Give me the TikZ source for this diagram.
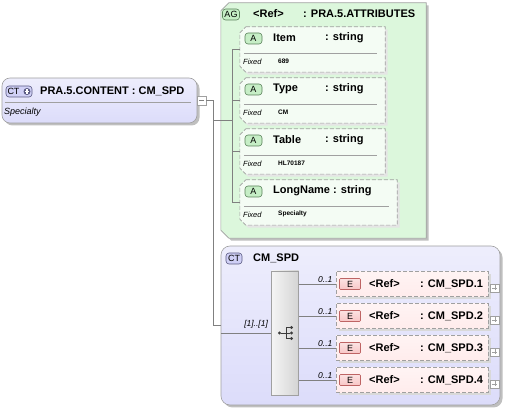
\documentclass[tikz,border=0pt]{standalone}
\usepackage{fontspec}
\setmainfont{Liberation Sans}
\usetikzlibrary{shadows, positioning, calc}
\definecolor{wire}{RGB}{128,128,128}
\definecolor{edge}{RGB}{160,160,160}
\definecolor{ctlav}{RGB}{220,220,250}
\definecolor{agmint}{RGB}{220,247,220}
\definecolor{attrmint}{RGB}{244,252,244}
\definecolor{elpink}{RGB}{255,236,236}
\definecolor{abadge}{RGB}{198,238,198}
\definecolor{aline}{RGB}{90,130,90}
\definecolor{ebadge}{RGB}{248,198,198}
\definecolor{eline}{RGB}{190,100,100}
\definecolor{ctbadge}{RGB}{208,208,246}
\definecolor{ctline}{RGB}{90,90,130}
\definecolor{iconc}{RGB}{60,60,60}
\newcommand{\cutbox}[3]{\draw[#2] ([xshift=#3]#1.north west) -- (#1.north east) -- (#1.south east) -- ([xshift=#3]#1.south west) -- ([yshift=#3]#1.south west) -- ([yshift=-#3]#1.north west) -- cycle;}

\tikzset{
 dropshade/.style={drop shadow={shadow xshift=2.5pt, shadow yshift=-2.5pt, fill=black!#1, opacity=1}},
 frame/.style={inner sep=0},
 ctbox/.style={draw=edge, line width=0.6pt, rounded corners=8pt, dropshade=25, top color=white!50!ctlav, bottom color=ctlav, inner sep=0},
 agline/.style={draw=edge, line width=0.6pt, fill=agmint, dropshade=25},
 attrline/.style={draw=edge, line width=0.6pt, dash pattern=on 4pt off 2pt, fill=attrmint, dropshade=10},
 elbox/.style={draw=edge, line width=0.6pt, dash pattern=on 4pt off 2pt, top color=elpink!60, bottom color=elpink, dropshade=15, inner sep=0, minimum width=152pt, minimum height=25pt},
 seqbox/.style={draw=edge, line width=0.6pt, left color=black!4, right color=black!17, inner sep=0, minimum width=27pt, minimum height=124pt},
 tag/.style={draw, line width=0.6pt, rounded corners=3pt, inner sep=0, minimum height=11pt, font=\fontsize{9}{10}\selectfont},
 hd/.style={inner sep=0, anchor=west, font=\fontsize{11}{13}\selectfont\bfseries},
 it/.style={inner sep=0, anchor=west, font=\fontsize{8.5}{10}\selectfont\itshape},
 fx/.style={inner sep=0, anchor=west, font=\fontsize{6.5}{8}\selectfont\bfseries},
 toggle/.style={draw=edge, fill=white, minimum size=8.5pt, inner sep=0},
 link/.style={draw=wire, line width=0.6pt},
 dot/.style={circle, fill=iconc, minimum size=3.2pt, inner sep=0},
}

\begin{document}
\begin{tikzpicture}[x=1pt, y=-1pt]
\useasboundingbox (0,0) rectangle (507,409);

\node[ctbox, minimum width=195pt, minimum height=45pt] (pra) at (99.5,100.5) {};
\node[tag, fill=ctbadge, draw=ctline, minimum width=26pt] (prat) at (19,91.5) {};
\node[inner sep=0, font=\fontsize{9}{10}\selectfont] (pratx) at (13.5,91.5) {CT};
\node[circle, fill=ctline, minimum size=7pt, inner sep=0] (prap) at (27,91.5) {};
\draw[white, line width=1.1pt] (prap.center) +(-2.2,0) -- +(2.2,0) (prap.center) +(0,-2.2) -- +(0,2.2);
\node[hd] (pran) at (40,91) {PRA.5.CONTENT : CM\_SPD};
\draw[edge] ([xshift=3pt, yshift=-2pt]pra.west) -- ([xshift=-6pt, yshift=-2pt]pra.east);
\node[it, font=\fontsize{9}{10}\selectfont\itshape] (prad) at (4,112.5) {Specialty};
\node[toggle, anchor=west] (prac) at (pra.east) {};
\draw[wire] (prac.center) +(-2.5,0) -- +(2.5,0);

\node[frame, minimum width=205pt, minimum height=235pt] (ag) at (323.5,120.5) {};
\cutbox{ag}{agline}{8pt}
\node[tag, fill=abadge, draw=aline, minimum width=17pt] (agt) at (231,14.5) {AG};
\node[hd] (agr) at (253,14) {<Ref>};
\node[hd] (agn) at (303,14) {: PRA.5.ATTRIBUTES};

\foreach \nm/\fv/\tp/\bw/\cx [count=\i] in {Item/689/27/145/325, Type/CM/78/145/325, Table/HL70187/129/145/325, LongName/Specialty/180/157/333}{
 \node[frame, minimum width=\bw pt, minimum height=45pt] (at\i) at (240+\bw/2,\tp+22.5) {};
 \cutbox{at\i}{attrline}{6pt}
 \node[tag, fill=abadge, draw=aline, minimum width=17pt] (ab\i) at (253.5,\tp+11.5) {A};
 \node[hd] (an\i) at (273,\tp+11) {\nm};
 \node[hd] (as\i) at (\cx,\tp+11) {: string};
 \draw[edge] ([xshift=4pt, yshift=-3.5pt]at\i.west) -- ([xshift=-8pt, yshift=-3.5pt]at\i.east);
 \node[it, font=\fontsize{7.5}{9}\selectfont\itshape] (af\i) at (243,\tp+34.5) {Fixed};
 \node[fx] (av\i) at (278,\tp+34) {\fv};
}
\coordinate (spine) at (213,0);
\coordinate (agspine) at (232,0);
\draw[link] (at1.west) -- (at1.west -| agspine) -- (at4.west -| agspine) -- (at4.west);
\draw[link] (at2.west) -- (at2.west -| agspine) (at3.west) -- (at3.west -| agspine);

\node[ctbox, rounded corners=9pt, minimum width=279pt, minimum height=159pt] (cmspd) at (360.5,325.5) {};
\node[tag, fill=ctbadge, draw=ctline, minimum width=16pt] (cmspdt) at (234,258.5) {CT};
\node[hd] (cmspdn) at (253,258) {CM\_SPD};
\node[seqbox] (seq) at (285,333) {};
\node[dot] (sq0) at (279.5,333) {};
\foreach \k/\dy in {1/-5.5,2/0,3/5.5} \node[dot] (sq\k) at (291.5,333+\dy) {};
\coordinate (sqk) at (286.5,333);
\draw[iconc, line width=0.8pt] (sq0) -- (sq2) (sq1) -| (sqk) |- (sq3);

\draw[link] (prac.east) -| (spine |- ag.west) -- (ag.west -| agspine);
\draw[link] (spine |- ag.west) |- (cmspd.west);
\draw[link] (cmspd.west |- seq.west) -- (seq.west) node[it, anchor=south east, xshift=-3pt, yshift=4pt] (seqm) {[1]..[1]};

\foreach \i in {1,...,4}{
 \node[elbox] (el\i) at (412,252+32*\i) {};
 \node[tag, rounded corners=1pt, top color=ebadge!50, bottom color=ebadge, draw=eline, minimum width=21pt] (elt\i) at (350,252+32*\i) {E};
 \node[hd] (elr\i) at (369,252+32*\i) {<Ref>};
 \node[hd] (eln\i) at (420,252+32*\i) {: CM\_SPD.\i};
 \node[toggle, anchor=west] (elc\i) at ([xshift=2pt, yshift=-4pt]el\i.east) {};
 \draw[edge] (elc\i.center) +(-2.5,0) -- +(2.5,0) (elc\i.center) +(0,-2.5) -- +(0,2.5);
 \draw[link] (seq.east |- el\i.west) -- (el\i.west) node[it, anchor=south east, xshift=-3pt, yshift=1pt] (elm\i) {0..1};
}
\end{tikzpicture}
\end{document}
